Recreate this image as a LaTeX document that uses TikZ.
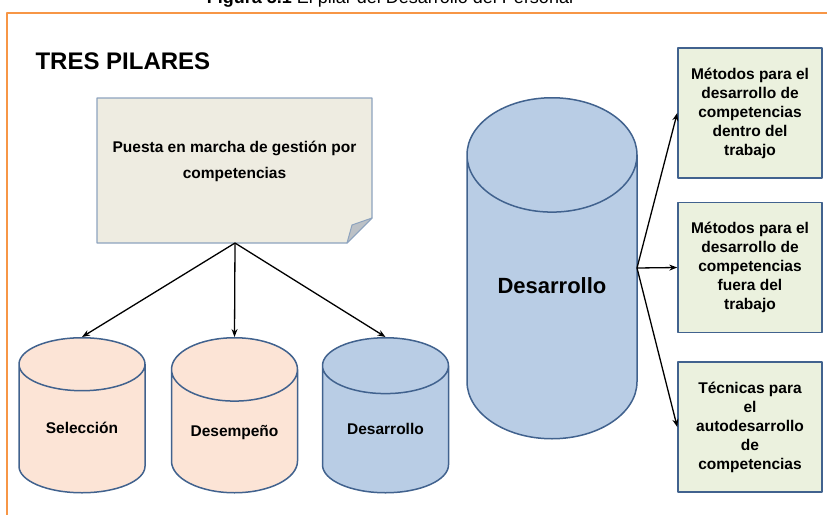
\documentclass[tikz,border=0pt]{standalone}
\usepackage{fontspec}
\setmainfont{Liberation Sans}
\usetikzlibrary{shapes.geometric,arrows.meta}
\definecolor{marco}{HTML}{F79646}
\definecolor{borde}{HTML}{41628E}
\definecolor{verde}{HTML}{EBF1DE}
\definecolor{nota}{HTML}{EEECE1}
\definecolor{notaborde}{HTML}{8DA3BE}
\definecolor{pliegue}{HTML}{BCC1C6}
\definecolor{durazno}{HTML}{FCE4D6}
\definecolor{azul}{HTML}{B9CDE5}
\begin{document}
\begin{tikzpicture}[x=1pt, y=-1pt, line join=round, >={Stealth[length=8pt,width=6pt]}]
	\tikzset{pilar/.style={cylinder, shape border rotate=90, aspect=0.67, draw=borde, line width=1.5pt, minimum width=126pt, minimum height=155pt, text height=12pt, text depth=12pt, anchor=north, font=\fontsize{15.5}{19}\selectfont\bfseries},
		metodo/.style={draw=borde, fill=verde, line width=1.5pt, minimum width=144pt, minimum height=130pt, align=center, font=\fontsize{15.5}{19}\selectfont\bfseries},
		flecha/.style={->, line width=1.3pt}}
	\useasboundingbox (0,0) rectangle (827,514);
	\clip (0,0) rectangle (827,514);
	\node[anchor=base, font=\fontsize{18}{20}\selectfont] (titulo) at (390,3) {\textbf{Figura 5.1} El pilar del Desarrollo del Personal};
	\draw[marco, line width=2.5pt] (7,530) |- (840,13);
	\node[anchor=base west, font=\fontsize{24}{26}\selectfont\bfseries] (tres) at (32,69) {TRES PILARES};
	% nota con esquina doblada
	\draw[fill=nota, draw=notaborde, line width=1.2pt] (97,98) -- (372,98) -- (372,218) -- (347,243) -- (97,243) -- cycle;
	\draw[fill=pliegue, draw=notaborde, line width=1pt] (372,218) -- (352,225) -- (347,243) -- cycle;
	\node[align=center, font=\fontsize{15.5}{26}\selectfont\bfseries] (nota) at (234.5,161) {Puesta en marcha de gestión por\\competencias};
	\coordinate (notabajo) at (235,243);
	% los tres pilares
	\node[pilar, fill=durazno] (sel) at (82,337) {Selección};
	\node[pilar, fill=durazno] (dem) at (234.5,337) {Desempeño};
	\node[pilar, fill=azul] (des) at (385.5,337) {Desarrollo};
	\draw[flecha] (notabajo) -- (sel.north);
	\draw[flecha] (notabajo) -- (dem.north);
	\draw[flecha] (notabajo) -- (des.north);
	% desarrollo y sus metodos
	\node[pilar, fill=azul, minimum width=170pt, minimum height=341pt, aspect=0.99, text height=16pt, text depth=40pt, font=\fontsize{22}{26}\selectfont\bfseries] (grande) at (552,97) {Desarrollo};
	\coordinate (salida) at (637,268);
	\node[metodo] (dentro) at (750,113) {Métodos para el\\desarrollo de\\competencias\\dentro del\\trabajo};
	\node[metodo] (fuera) at (750,267.5) {Métodos para el\\desarrollo de\\competencias\\fuera del\\trabajo};
	\node[metodo] (auto) at (750,427) {Técnicas para\\el\\autodesarrollo\\de\\competencias};
	\draw[flecha] (salida) -- (dentro.west);
	\draw[flecha] (salida) -- (fuera.west);
	\draw[flecha] (salida) -- (auto.west);
\end{tikzpicture}
\end{document}
